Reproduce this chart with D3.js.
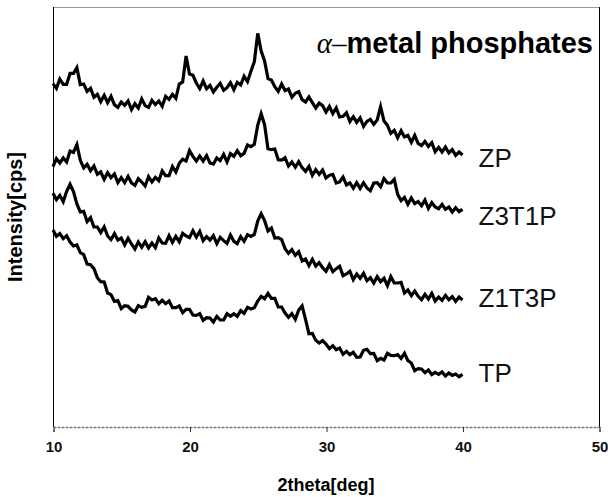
<!DOCTYPE html>
<html>
<head>
<meta charset="utf-8">
<script src="https://cdn.jsdelivr.net/npm/d3@7"></script>
<style>
  html, body { margin: 0; padding: 0; background: #fff; }
  svg { display: block; }
</style>
</head>
<body>
<svg id="chart" width="608" height="497"></svg>
<script>
// ---- data ----
const twoThetaStart = 10, twoThetaStep = 0.25, twoThetaEnd = 40;
const xTicks = [10, 20, 30, 40, 50];
const seriesNames = ["ZP", "Z3T1P", "Z1T3P", "TP"];
const labelIntensity = [807, 633, 387, 162];
const titleText = "metal phosphates";
const titlePrefix = "\u03B1\u2013";

const ZP = [1030,1016,1044,1028,1028,1061,1061,1078,1027,1029,1007,1016,989,998,976,995,973,992,967,959,
975,965,978,952,970,957,984,964,959,980,967,978,962,992,983,998,986,1029,1035,1113,
1059,1055,1032,1015,1038,1015,1025,1005,1019,1031,1010,1018,1033,1012,1034,1026,1052,1036,1067,1096,
1181,1128,1098,1045,1041,1021,1007,1029,1009,1014,989,1001,1006,982,975,990,973,957,972,964,
945,962,940,957,930,932,943,916,931,914,927,902,917,923,908,921,961,918,905,881,
890,868,889,870,875,854,875,851,844,857,842,853,826,839,825,840,822,832,815,825,816];

const Z3T1P = [781,805,792,807,795,828,824,847,800,777,788,769,783,758,765,743,763,748,759,733,
748,733,752,732,725,745,735,723,751,735,749,739,768,754,754,781,765,791,803,798,
829,812,798,813,798,814,792,789,807,799,818,795,820,812,829,814,821,846,841,848,
906,940,907,835,832,834,802,801,808,783,795,779,796,778,767,782,755,772,758,771,
747,755,758,732,735,750,726,732,716,733,716,733,717,709,732,733,721,745,732,732,
743,698,679,689,668,687,670,676,664,681,656,673,660,655,668,653,660,645,658,646,653];

const Z1T3P = [701,682,695,676,707,728,706,669,645,647,616,628,600,600,583,600,573,562,580,561,
567,546,566,549,534,555,539,556,537,552,538,567,552,551,574,554,572,556,581,573,
568,589,570,587,559,571,561,574,550,569,559,551,576,557,550,571,557,577,572,578,
618,640,619,588,597,567,568,562,535,521,532,515,526,498,504,484,503,483,493,478,
467,487,466,475,482,454,459,467,442,459,446,461,439,448,432,451,436,446,424,451,
432,432,434,402,411,394,408,392,382,398,384,401,378,390,380,395,382,391,377,390,381];

const TP = [591,572,580,565,574,555,543,546,523,517,489,487,475,448,436,435,402,397,377,379,
355,364,362,351,345,364,359,362,389,381,385,370,380,370,378,358,358,363,343,353,
353,336,335,340,320,328,327,315,332,321,321,340,332,340,332,349,341,359,354,358,
378,392,385,401,386,386,360,360,342,329,340,323,351,363,323,280,281,260,252,259,
249,235,244,232,237,218,227,217,224,209,210,230,233,220,221,199,206,201,221,215,
214,217,206,221,199,192,169,175,174,163,171,157,164,158,165,153,162,155,159,151,158];

const seriesValues = [ZP, Z3T1P, Z1T3P, TP];

// ---- layout ----
const svg = d3.select("#chart");
const mLeft = 53, mRight = 599, mTop = 7, mBottom = 427;

const x = d3.scaleLinear().domain([10, 50]).range([mLeft, mRight]);
const y = d3.scaleLinear().domain([0, 1260]).range([mBottom, mTop]);

const twoTheta = d3.range(twoThetaStart, twoThetaEnd + twoThetaStep / 2, twoThetaStep);

// frame
svg.append("line").attr("x1", mLeft).attr("x2", mRight).attr("y1", mTop + 0.5).attr("y2", mTop + 0.5)
  .attr("stroke", "#9a9a9a").attr("stroke-width", 1.2);
svg.append("line").attr("x1", mRight + 0.5).attr("x2", mRight + 0.5).attr("y1", mTop).attr("y2", mBottom)
  .attr("stroke", "#000").attr("stroke-width", 1);
svg.append("line").attr("x1", mLeft + 0.5).attr("x2", mLeft + 0.5).attr("y1", mTop).attr("y2", mBottom)
  .attr("stroke", "#000").attr("stroke-width", 1);

// x axis
const xAxis = d3.axisBottom(x).tickValues(xTicks).tickSize(5).tickPadding(9).tickFormat(d3.format("d"));
const gx = svg.append("g").attr("transform", `translate(0.5,${mBottom})`).call(xAxis);
gx.select(".domain").attr("stroke", "#777").attr("stroke-width", 1.4).attr("stroke-dasharray", "3,1");
gx.selectAll(".tick line").attr("stroke", "#333");
gx.selectAll(".tick text")
  .attr("font-family", "Liberation Sans, Arial, sans-serif")
  .attr("font-weight", "bold").attr("font-size", 15).attr("fill", "#111");

// curves
const line = d3.line()
  .x((d, i) => x(twoTheta[i]))
  .y(d => y(d));

svg.append("g").selectAll("path")
  .data(seriesValues)
  .join("path")
  .attr("d", d => line(d))
  .attr("fill", "none")
  .attr("stroke", "#000")
  .attr("stroke-width", 3.2)
  .attr("stroke-linejoin", "miter")
  .attr("stroke-miterlimit", 6);

// series labels
svg.append("g").selectAll("text")
  .data(seriesNames)
  .join("text")
  .attr("x", x(twoThetaEnd) + 16)
  .attr("y", (d, i) => y(labelIntensity[i]))
  .attr("dy", "0.36em")
  .attr("font-family", "Liberation Sans, Arial, sans-serif")
  .attr("font-size", 26)
  .attr("fill", "#111")
  .text(d => d);

// title
const title = svg.append("text")
  .attr("x", 593).attr("y", 53)
  .attr("text-anchor", "end")
  .attr("font-family", "Liberation Sans, Arial, sans-serif")
  .attr("font-size", 29).attr("fill", "#000");
title.append("tspan").attr("font-family", "Liberation Serif, Times New Roman, serif")
  .attr("font-style", "italic").attr("font-weight", "normal").text(titlePrefix);
title.append("tspan").attr("font-weight", "bold").text(titleText);

// axis titles
svg.append("text")
  .attr("x", (mLeft + mRight) / 2).attr("y", 491)
  .attr("text-anchor", "middle")
  .attr("font-family", "Liberation Sans, Arial, sans-serif")
  .attr("font-weight", "bold").attr("font-size", 18).attr("fill", "#000")
  .text("2theta[deg]");

svg.append("text")
  .attr("transform", `translate(22,${(mTop + mBottom) / 2}) rotate(-90)`)
  .attr("text-anchor", "middle")
  .attr("font-family", "Liberation Sans, Arial, sans-serif")
  .attr("font-weight", "bold").attr("font-size", 20).attr("fill", "#000")
  .text("Intensity[cps]");
</script>
</body>
</html>
